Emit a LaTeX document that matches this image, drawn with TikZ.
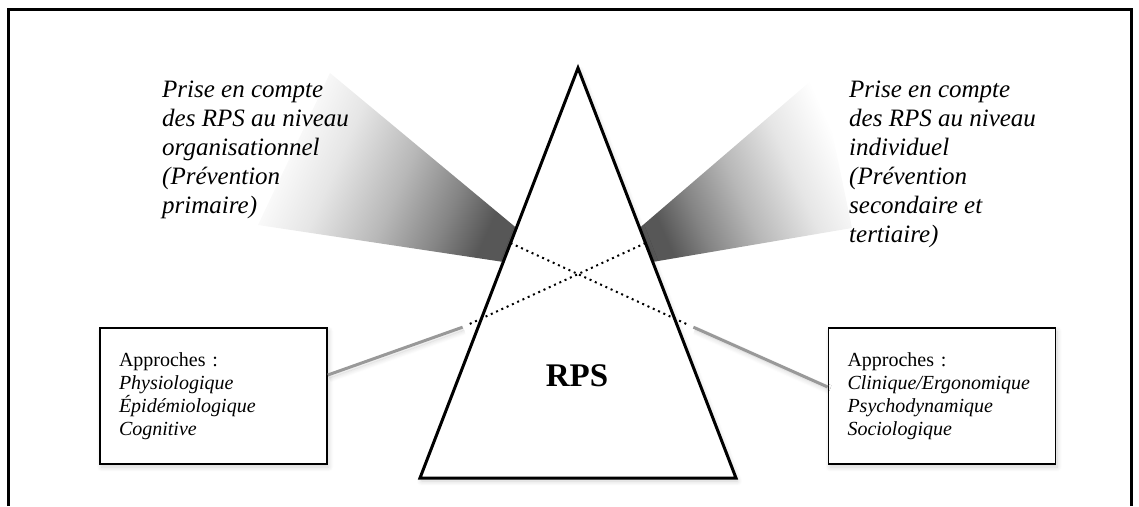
\documentclass[tikz,border=0pt]{standalone}
\usepackage{fontspec}
\setmainfont{Liberation Serif}
\usetikzlibrary{calc,shadows.blur}
\pgfdeclarehorizontalshading{faisceau}{100bp}{color(0bp)=(white); color(27bp)=(white);
  color(40bp)=(black!10); color(54bp)=(black!28); color(66bp)=(black!48); color(75bp)=(black!66); color(100bp)=(black!66)}
\tikzset{
  cadre/.style={line width=3pt},
  ombre/.style={blur shadow={shadow xshift=1.5pt, shadow yshift=-3pt, shadow blur radius=5pt, shadow blur steps=10, shadow opacity=18}},
  pyramide/.style={line width=3pt, line join=miter},
  approche/.style={draw, fill=white, line width=1.6pt, minimum width=227pt, minimum height=136pt,
    text width=189pt, inner xsep=19pt, align=left, font=\fontsize{20}{23}\selectfont, ombre},
  niveau/.style={inner sep=0pt, align=left, font=\fontsize{25}{29}\selectfont\itshape},
  croisement/.style={line width=2pt, dash pattern=on 2pt off 3.8pt},
  liaison/.style={line width=3pt, draw=black!40}
}
\begin{document}
\begin{tikzpicture}[x=1pt,y=-1pt]
\useasboundingbox (0,0) rectangle (1139,506);
\draw[cadre] (8,506) -- (8,9) -- (1131,9) -- (1131,506);
\coordinate (sommet) at (578,68);
\coordinate (baseG) at (420,478);
\coordinate (baseD) at (736,478);
\coordinate (hautG) at ($(sommet)!0.39!(baseG)$);
\coordinate (basG) at ($(sommet)!0.473!(baseG)$);
\coordinate (hautD) at ($(sommet)!0.39!(baseD)$);
\coordinate (basD) at ($(sommet)!0.473!(baseD)$);
\coordinate (departG) at ($(sommet)!0.427!(baseG)$);
\coordinate (departD) at ($(sommet)!0.427!(baseD)$);
\coordinate (arriveeG) at ($(sommet)!0.611!(baseG)$);
\coordinate (arriveeD) at ($(sommet)!0.611!(baseD)$);
\shade[shading=faisceau, shading angle=-24]
  (330,73) -- (hautG) -- (basG) -- (258,225) -- cycle;
\shade[shading=faisceau, shading angle=204]
  (820,73) -- (852,228) -- (basD) -- (hautD) -- cycle;
\node[niveau, anchor=north west] (orga) at (162,81)
  {Prise en compte\\des RPS au niveau\\organisationnel\\(Prévention\\primaire)};
\node[niveau, anchor=north west] (indiv) at (849,81)
  {Prise en compte\\des RPS au niveau\\individuel\\(Prévention\\secondaire et\\tertiaire)};
\node[approche] (approchesG) at (213.5,396)
  {Approches :\\\textit{Physiologique}\\\textit{Épidémiologique}\\\textit{Cognitive}};
\node[approche] (approchesD) at (942,396)
  {Approches :\\\textit{Clinique/Ergonomique}\\\textit{Psychodynamique}\\\textit{Sociologique}};
\draw[liaison, ombre] ($(departD)!1.115!(arriveeG)$) -- ([yshift=21pt]approchesG.east);
\draw[liaison, ombre] ($(departG)!1.115!(arriveeD)$) -- ([yshift=9pt]approchesD.west);
\fill[white, ombre] (sommet) -- (baseD) -- (baseG) -- cycle;
\draw[croisement] (departG) -- ($(departG)!1.09!(arriveeD)$);
\draw[croisement] (departD) -- ($(departD)!1.09!(arriveeG)$);
\draw[pyramide] (sommet) -- (baseD) -- (baseG) -- cycle;
\node[font=\fontsize{33}{40}\selectfont\bfseries] (rps) at (577,376) {RPS};
\end{tikzpicture}
\end{document}
